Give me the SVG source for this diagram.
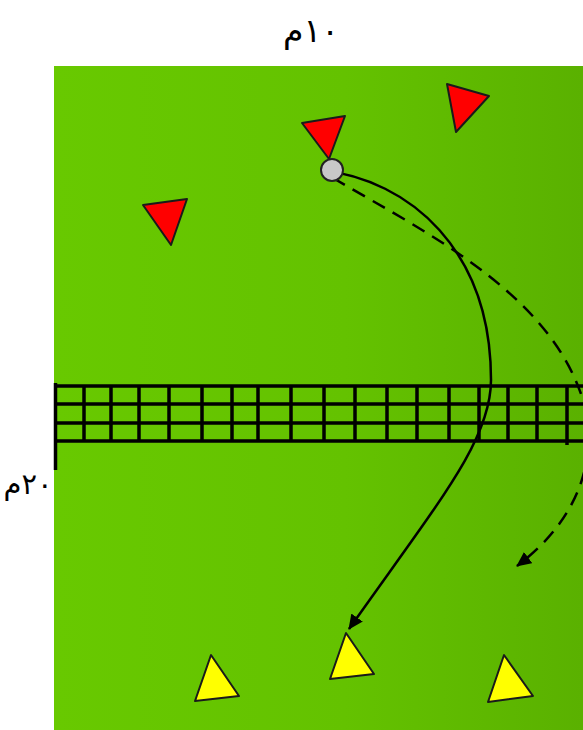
<svg xmlns="http://www.w3.org/2000/svg" width="583" height="730" viewBox="0 0 583 730">
<defs>
<linearGradient id="field" x1="0" y1="0" x2="1" y2="0">
<stop offset="0" stop-color="#68c900"/>
<stop offset="0.55" stop-color="#64c200"/>
<stop offset="1" stop-color="#5ab100"/>
</linearGradient>
<marker id="arrow" markerWidth="16" markerHeight="14" refX="14" refY="7" orient="auto" markerUnits="userSpaceOnUse">
<path d="M0,0 L15,7 L0,14 Z" fill="#000"/>
</marker>
<style>
.lbl{font-family:"DejaVu Sans",sans-serif;font-weight:normal;fill:#000}
.net{stroke:#000;stroke-width:3.5;fill:none}
.red{fill:#ff0000;stroke:#1a1a1a;stroke-width:2;stroke-linejoin:round}
.yel{fill:#ffff00;stroke:#1a1a1a;stroke-width:2;stroke-linejoin:round}
.path{fill:none;stroke:#000;stroke-width:2.5}
</style>
</defs>
<rect x="0" y="0" width="583" height="730" fill="#ffffff"/>
<rect id="field-area" x="54" y="66" width="529" height="664" fill="url(#field)"/>
<g id="labels">
<text class="lbl" x="311" y="42" font-size="33" text-anchor="middle" direction="rtl">۱۰م</text>
<text class="lbl" x="28" y="494" font-size="29" text-anchor="middle" direction="rtl">۲۰م</text>
</g>
<g id="net">
<path class="net" d="M54,386 H583 M54,404 H583 M54,423 H583 M54,441 H583"/>
<path class="net" d="M55.5,383 V470"/>
<path class="net" d="M84,386 V441 M111,386 V441 M139,386 V441 M169,386 V441 M202,386 V441 M232,386 V441 M258,386 V441 M291,386 V441 M324,386 V441 M355,386 V441 M387,386 V441 M417,386 V441 M449,386 V441 M479,386 V441 M508,386 V441 M537,386 V441 M567,386 V445"/>
</g>
<g id="connectors">
<path class="path" d="M321,170 C410,180 491,250 491,380 C491,440 440,500 349,629" marker-end="url(#arrow)"/>
<path class="path" stroke-dasharray="14,9" d="M333,178 C430,235 565,300 588,420 C594,480 565,530 517,566" marker-end="url(#arrow)"/>
</g>
<g id="red-cone-1"><polygon class="red" points="302,123 345,116 329,159"/></g>
<g id="red-cone-2"><polygon class="red" points="447,84 489,96 456,132"/></g>
<g id="red-cone-3"><polygon class="red" points="143,205 187,199 171,245"/></g>
<g id="ball"><circle cx="332" cy="170" r="11" fill="#c8c8c8" stroke="#222" stroke-width="2"/></g>
<g id="yellow-cone-1"><polygon class="yel" points="211,655 195,701 239,696"/></g>
<g id="yellow-cone-2"><polygon class="yel" points="346,633 330,679 374,674"/></g>
<g id="yellow-cone-3"><polygon class="yel" points="504,655 488,702 533,696"/></g>
</svg>
